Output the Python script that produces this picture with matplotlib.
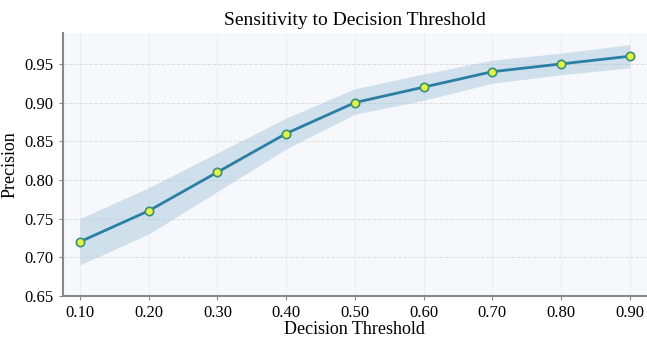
import numpy as np
import matplotlib.pyplot as plt

plt.rcParams['font.family'] = ['Liberation Serif', 'DejaVu Serif']

thresholds = [0.1, 0.2, 0.3, 0.4, 0.5, 0.6, 0.7, 0.8, 0.9]
precision = [0.72, 0.76, 0.81, 0.86, 0.90, 0.92, 0.94, 0.95, 0.96]
lower = [0.69, 0.73, 0.785, 0.84, 0.885, 0.903, 0.925, 0.936, 0.945]
upper = [0.75, 0.79, 0.835, 0.88, 0.918, 0.937, 0.955, 0.964, 0.975]

fig, ax = plt.subplots(figsize=(6.47, 3.37), dpi=100)
fig.subplots_adjust(left=0.097, right=1.0, top=0.902, bottom=0.122)
ax.set_facecolor('#f7f8fc')

ax.fill_between(thresholds, lower, upper, color='#a9c8de', alpha=0.5, linewidth=0)
ax.plot(thresholds, precision, color='#2a7fa3', linewidth=2, marker='o',
        markersize=6, markerfacecolor='#e3f542', markeredgecolor='#3a8f7a',
        markeredgewidth=1.2)

ax.set_xlim(0.075, 0.925)
ax.set_ylim(0.65, 0.99)
ax.set_xticks(thresholds)
ax.set_xticklabels([f'{t:.2f}' for t in thresholds])
ax.set_yticks([0.65, 0.70, 0.75, 0.80, 0.85, 0.90, 0.95])
ax.set_yticklabels(['0.65', '0.70', '0.75', '0.80', '0.85', '0.90', '0.95'])
ax.tick_params(labelsize=12, color='#888888', length=3)

ax.grid(axis='y', linestyle='--', color='#dddddd', linewidth=0.7)
ax.grid(axis='x', linestyle='-', color='#ebebf0', linewidth=0.7)
ax.set_axisbelow(True)

for s in ['top', 'right']:
    ax.spines[s].set_visible(False)
for s in ['left', 'bottom']:
    ax.spines[s].set_color('#888888')
    ax.spines[s].set_linewidth(1.5)

ax.set_title('Sensitivity to Decision Threshold', fontsize=14)
ax.set_xlabel('Decision Threshold', fontsize=13, labelpad=0)
ax.set_ylabel('Precision', fontsize=13)

fig.savefig('out.png', dpi=100)
